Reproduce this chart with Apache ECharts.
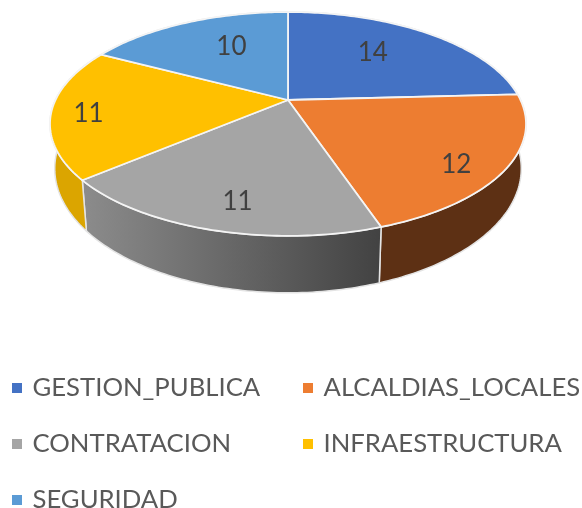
<!DOCTYPE html>
<html><head><meta charset="utf-8">
<script src="https://cdn.jsdelivr.net/npm/echarts@6/dist/echarts.min.js"></script>
<style>html,body{margin:0;padding:0;background:#fff}#c{width:582px;height:508px}</style>
</head><body><div id="c"></div>
<script>
const categories = ['GESTION_PUBLICA','ALCALDIAS_LOCALES','CONTRATACION','INFRAESTRUCTURA','SEGURIDAD'];
const values = [14,12,11,11,10];
const colors = ['#4472C4','#ED7D31','#A5A5A5','#FFC000','#5B9BD5'];
const wallColors = ['#2a4478','#5D3014',
  {type:'linear',x:0,y:0,x2:1,y2:0,colorStops:[{offset:0,color:'#8C8C8C'},{offset:1,color:'#424242'}]},
  '#DBA500','#37608a'];
const legendSpots = [[12,375],[303,375],[12,431],[303,431],[12,487]];
const labelRadius = [0.6,0.8,0.82,0.85,0.65];
const labelNudge = [[-3,-5],[-2,12],[11,0],[1,4],[13,0]];

// perspective projection of the disc
const CX=288, CY=100, A=232.5, B=106.8, K=0.214;
const total = values.reduce((a,b)=>a+b,0);
function proj(deg,r){
  const t=deg*Math.PI/180, u=Math.sin(t)*r, v=Math.cos(t)*r, w=1+K*v;
  return [CX+A*u/w, CY-B*v/w];
}
function low(p){ return [CX+(p[0]-CX)*0.98, 233+(p[1]-182)*1.11]; }
function renderSlice(i){
  return function(params){
    let start=0; for(let k=0;k<i;k++) start+=values[k]/total*360;
    const end=start+values[i]/total*360;
    const rim=[]; const n=Math.ceil(end-start);
    for(let s=0;s<=n;s++) rim.push(proj(start+(end-start)*s/n,1));
    const mid=(start+end)/2, lp=proj(mid,labelRadius[i]);
    return {type:'group',children:[
      {type:'polygon',z2:1,shape:{points:rim.concat(rim.map(low).reverse())},
        style:{fill:wallColors[i],stroke:'#e4e4e4',lineWidth:1.5,lineJoin:'round'}},
      {type:'polygon',z2:10,shape:{points:[[CX,CY]].concat(rim)},
        style:{fill:colors[i],stroke:'#f4f4f4',lineWidth:1.8,lineJoin:'round'}},
      {type:'text',z2:20,x:lp[0]+labelNudge[i][0],y:lp[1]+labelNudge[i][1],
        style:{text:String(values[i]),fill:'#404040',font:'26px Lato',align:'center',verticalAlign:'middle'}}
    ]};
  };
}
const chart=echarts.init(document.getElementById('c'),null,{renderer:'canvas'});
chart.setOption({
  animation:false,
  backgroundColor:'#fff',
  legend:categories.map((name,i)=>({
    data:[name],left:legendSpots[i][0],top:legendSpots[i][1],padding:0,
    icon:'rect',itemWidth:10,itemHeight:10,selectedMode:false,
    textStyle:{fontFamily:'Lato',fontSize:25.7,color:'#595959',padding:[0,0,0,5.5]}
  })),
  series:categories.map((name,i)=>({
    type:'custom',name,coordinateSystem:'none',
    itemStyle:{color:colors[i]},
    data:[[values[i]]],renderItem:renderSlice(i)
  }))
});
</script></body></html>
